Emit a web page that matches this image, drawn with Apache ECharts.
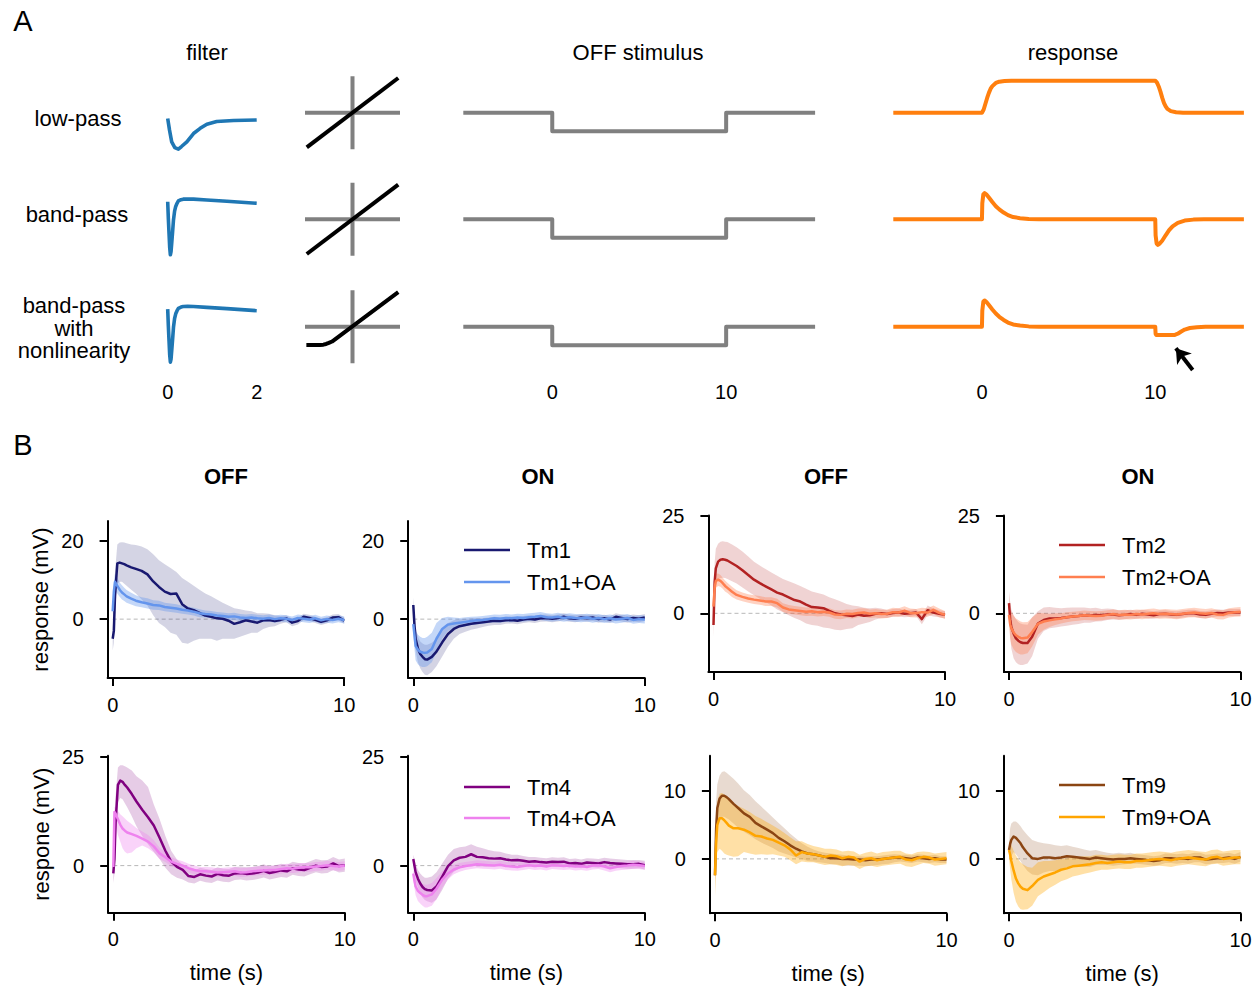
<!DOCTYPE html>
<html>
<head>
<meta charset="utf-8">
<script src="https://cdn.jsdelivr.net/npm/echarts@6/dist/echarts.min.js"></script>
<style>
  html, body { margin: 0; padding: 0; background: #fff; }
  #chart { width: 1256px; height: 987px; }
</style>
</head>
<body>
<div id="chart"></div>
<script>
// ---------------- Panel A: model sketch ----------------
// filter kernels (time in s, arbitrary units)
const lowPassT = [0, 0.04, 0.09, 0.16, 0.24, 0.31, 0.43, 0.58, 0.73, 0.88, 1.1, 1.48, 2.0];
const lowPass  = [0.03, -0.19, -0.42, -0.53, -0.56, -0.51, -0.42, -0.26, -0.16, -0.08, -0.03, -0.01, 0];
const bandPassT = [0, 0.015, 0.03, 0.045, 0.06, 0.075, 0.09, 0.11, 0.13, 0.155, 0.18, 0.21, 0.24, 0.3, 0.35, 0.45, 0.58, 0.88, 1.33, 2.0];
const bandPass  = [0.03, -0.3, -0.58, -0.85, -0.99, -0.93, -0.77, -0.55, -0.32, -0.15, -0.06, 0.0, 0.045, 0.07, 0.08, 0.083, 0.08, 0.064, 0.04, 0];
const filterTicks = [0, 2];

// output nonlinearities
const crossSpan = [-1, 1];
const linearX  = [-0.97, 0.97];
const linearNL = [-0.97, 0.97];
const rectX  = [-0.97, -0.72, -0.64, -0.58, -0.52, -0.45, 0.97];
const rectNL = [-0.53, -0.53, -0.52, -0.50, -0.47, -0.43, 0.97];

// OFF step stimulus
const stimT = [-5, 0, 0, 10, 10, 15];
const stimV = [0, 0, -1, -1, 0, 0];
const stepTicks = [0, 10];

// model responses
const respLowT = [-5, 0, 0.1, 0.2, 0.3, 0.4, 0.5, 0.6, 0.8, 1.0, 1.3, 1.7, 10, 10.1, 10.2, 10.3, 10.4, 10.5, 10.6, 10.7, 10.9, 11.2, 11.6, 15];
const respLow  = [0, 0, 0.1, 0.28, 0.46, 0.62, 0.75, 0.83, 0.93, 0.97, 0.99, 1.0, 1.0, 0.94, 0.82, 0.66, 0.47, 0.31, 0.2, 0.12, 0.05, 0.015, 0, 0];
const respBandT = [-5, 0, 0.02, 0.08, 0.15, 0.25, 0.4, 0.6, 0.8, 1.0, 1.25, 1.5, 1.8, 2.2, 2.7, 3.3, 10, 10.02, 10.08, 10.15, 10.25, 10.4, 10.6, 10.8, 11.0, 11.3, 11.7, 12.2, 12.8, 15];
const respBand  = [0, 0, 0.5, 0.78, 0.82, 0.78, 0.68, 0.54, 0.41, 0.31, 0.21, 0.13, 0.07, 0.035, 0.01, 0, 0, -0.5, -0.76, -0.8, -0.76, -0.67, -0.5, -0.34, -0.22, -0.11, -0.04, -0.01, 0, 0];
const respNlT = [-5, 0, 0.02, 0.08, 0.15, 0.25, 0.4, 0.6, 0.8, 1.0, 1.25, 1.5, 1.8, 2.2, 2.7, 3.3, 10, 10.02, 10.06, 11.1, 11.3, 11.5, 11.7, 12.0, 12.4, 12.9, 15];
const respNl  = [0, 0, 0.5, 0.78, 0.82, 0.78, 0.68, 0.54, 0.41, 0.31, 0.21, 0.13, 0.07, 0.035, 0.01, 0, 0, -0.22, -0.26, -0.26, -0.22, -0.15, -0.09, -0.04, -0.015, 0, 0];
const arrowTail = [12.16, -1.35];
const arrowHead = [11.19, -0.675];

// ---------------- Panel B: recorded responses (mV) ----------------
const T = [0, 0.05, 0.1, 0.2, 0.3, 0.4, 0.5, 0.6, 0.8, 1.0,
  1.25, 1.5, 1.75, 2.0, 2.25, 2.5, 2.75, 3.0, 3.25, 3.5, 3.75, 4.0,
  4.25, 4.5, 4.75, 5.0, 5.25, 5.5, 5.75, 6.0, 6.25, 6.5, 6.75, 7.0,
  7.25, 7.5, 7.75, 8.0, 8.25, 8.5, 8.75, 9.0, 9.25, 9.5, 9.75, 10];
const timeTicks = [0, 10];
const zeroSpan = [0, 10];

// Tm1, OFF step
const tm1_off    = [-5,-3,6,14.2,14.4,14.2,14.0,13.7,13.2,12.8, 12.3,11.4,9.6,8.2, 7.0,6.4,6.5,3.8, 2.7,2.3,1.6,0.9, 0.6,0.2,0.1,-0.4, -1.2,-0.8,-0.3,-0.6, -0.9,-0.3,-0.2,-0.5, -0.2,0.2,-0.9,-0.5, 0.6,0.3,-0.2,-0.7, -0.3,0.4,0.5,-0.4];
const tm1_off_lo = [-8,-6,2,9,9.5,9.5,9,8.5,7.5,6.5, 5,3.5,1,-1, -2,-3.5,-4,-6, -6.3,-5.5,-5,-5, -5,-5.5,-5,-5, -5,-4.5,-4,-3.5, -3.5,-2.5,-2,-1.8, -1.2,-0.8,-1.8,-1.4, -0.3,-0.5,-1,-1.5, -1.1,-0.4,-0.3,-1.2];
const tm1_off_hi = [-3,4,12,19,19.5,19.6,19.5,19.3,19,18.9, 18.5,17.8,16.5,15, 14,13,12,10.5, 9.5,8.5,7.5,6.5, 5.8,5,4.2,3.5, 2.8,2.5,2.2,2, 1.5,1.5,1.4,1, 0.8,1,0.1,0.4, 1.4,1.1,0.6,0.1, 0.5,1.2,1.3,0.4];
const tm1oa_off    = [2,7,9.5,8.5,7.5,6.8,6.3,5.8,5.2,4.7, 4.3,4.0,3.6,3.5, 3.1,2.9,2.7,2.4, 2.2,1.9,1.5,1.3, 1.2,0.9,0.8,0.6, 0.7,0.4,0.3,0.4, 0.2,0.1,0.3,0.0, 0.2,0.1,-0.2,0.3, 0.1,-0.1,0.2,-0.3, 0.0,-0.2,0.1,-0.2];
const tm1oa_off_lo = [1,4.8,7.3,6.5,5.7,5.0,4.6,4.2,3.7,3.3, 3.0,2.7,2.4,2.3, 2.0,1.8,1.6,1.4, 1.2,0.9,0.5,0.4, 0.3,0.0,-0.1,-0.3, -0.2,-0.5,-0.6,-0.5, -0.7,-0.8,-0.6,-0.9, -0.7,-0.8,-1.1,-0.6, -0.8,-1.0,-0.7,-1.2, -0.9,-1.1,-0.8,-1.1];
const tm1oa_off_hi = [3,9.2,11.7,10.5,9.3,8.6,8.0,7.4,6.7,6.1, 5.6,5.3,4.8,4.7, 4.2,4.0,3.8,3.4, 3.2,2.9,2.5,2.2, 2.1,1.8,1.7,1.5, 1.6,1.3,1.2,1.3, 1.1,1.0,1.2,0.9, 1.1,1.0,0.7,1.2, 1.0,0.8,1.1,0.6, 0.9,0.7,1.0,0.7];

// Tm1, ON step
const tm1_on    = [3.6,-1.5,-5.0,-7.5,-8.9,-9.6,-10.2,-10.3,-9.6,-8.3, -5.9,-3.8,-2.5,-1.8, -1.5,-1.2,-1.0,-0.8, -0.6,-0.4,-0.5,-0.3, -0.2,-0.4,-0.1,0.1, -0.1,0.2,0.3,0.1, 0.3,0.6,0.2,0.1, 0.4,0.2,0.4,0.0, 0.2,-0.1,0.6,0.3, 0.0,0.3,0.1,0.4];
const tm1_on_lo = [2.0,-4,-8,-11,-12.5,-13.5,-14.2,-14.3,-13.5,-12, -9.5,-7,-5,-3.8, -3.2,-2.7,-2.4,-2.0, -1.7,-1.5,-1.5,-1.2, -1.1,-1.3,-1.0,-0.8, -1.0,-0.7,-0.6,-0.8, -0.6,-0.3,-0.7,-0.8, -0.5,-0.7,-0.5,-0.9, -0.7,-1.0,-0.3,-0.6, -0.9,-0.6,-0.8,-0.5];
const tm1_on_hi = [5.5,1.5,-2,-4.5,-5.7,-6.2,-6.5,-6.5,-6,-5, -2.7,-1.0,-0.3,0.0, 0.1,0.2,0.3,0.3, 0.4,0.6,0.5,0.6, 0.7,0.5,0.8,1.0, 0.8,1.1,1.2,1.0, 1.2,1.5,1.1,1.0, 1.3,1.1,1.3,0.9, 1.1,0.8,1.5,1.2, 0.9,1.2,1.0,1.3];
const tm1oa_on    = [-1.3,-4.0,-6.8,-7.8,-8.3,-8.5,-8.6,-8.5,-7.6,-5.0, -2.5,-1.4,-1.1,-0.9, -0.7,-0.5,-0.3,-0.2, 0.0,0.2,0.1,0.3, 0.2,0.4,0.3,0.5, 0.6,0.8,0.5,0.4, 0.6,0.3,0.5,0.3, 0.2,0.4,0.1,0.3, 0.0,0.2,-0.1,0.1, 0.3,-0.2,0.0,-0.1];
const tm1oa_on_lo = [-3.5,-7.5,-10.5,-11.5,-12,-12.2,-12.2,-12,-11,-8.5, -5,-3,-2.4,-2.1, -1.8,-1.5,-1.3,-1.2, -1.0,-0.8,-0.9,-0.7, -0.8,-0.6,-0.7,-0.5, -0.4,-0.2,-0.5,-0.6, -0.4,-0.7,-0.5,-0.7, -0.8,-0.6,-0.9,-0.7, -1.0,-0.8,-1.1,-0.9, -0.7,-1.2,-1.0,-1.1];
const tm1oa_on_hi = [0.8,-0.5,-3,-4,-4.5,-4.8,-4.8,-4.5,-3.5,-1, 0.3,0.6,0.4,0.3, 0.5,0.6,0.7,0.8, 1.0,1.2,1.1,1.3, 1.2,1.4,1.3,1.5, 1.6,1.8,1.5,1.4, 1.6,1.3,1.5,1.3, 1.2,1.4,1.1,1.3, 1.0,1.2,0.9,1.1, 1.3,0.8,1.0,0.9];

// Tm2, OFF step
const tm2_off    = [-3,8,11.5,13.2,13.7,13.8,13.7,13.5,12.8,12.1, 11.0,9.8,8.6,7.7, 6.9,6.1,5.3,4.8, 4.1,3.4,3.0,2.2, 1.6,1.5,1.3,0.6, 0.0,-0.3,-0.5,-0.7, -0.3,-0.6,-0.5,-0.1, 0.0,-0.2,0.1,0.2, -0.1,0.0,0.2,-1.5, 0.8,0.2,-0.1,-0.4];
const tm2_off_lo = [-6,3,7,8.7,9,9.1,9.0,8.8,8.2,7.6, 6.6,5.6,4.6,3.7, 2.9,2.0,1.0,0.3, -0.5,-1.2,-1.8,-2.6, -3.0,-3.2,-3.6,-3.8, -4.2,-4.3,-4.0,-3.8, -3.0,-2.6,-2.2,-1.6, -1.2,-1.2,-0.9,-0.8, -1.0,-0.9,-0.7,-2.8, -0.4,-0.8,-1.0,-1.3];
const tm2_off_hi = [0,13,16.5,17.8,18.3,18.4,18.3,18.2,17.6,16.9, 15.8,14.5,13.2,12.2, 11.3,10.4,9.6,8.8, 8.2,7.6,7.0,6.3, 5.6,5.2,4.8,4.1, 3.6,3.0,2.4,2.0, 1.8,1.4,1.3,1.4, 1.2,0.8,1.1,1.2, 0.8,0.9,1.1,-0.4, 2.0,1.2,0.8,0.5];
const tm2oa_off    = [1.7,6.5,8.3,8.6,8.3,7.7,7.0,6.5,5.5,4.7, 4.2,3.8,3.5,3.3, 3.0,3.0,2.6,1.5, 1.0,0.8,0.6,0.4, 0.5,0.3,0.4,0.2, -0.3,-0.4,-0.1,-0.2, 0.1,0.2,-0.1,0.0, -0.2,-0.1,0.3,0.2, 0.7,0.1,0.0,0.3, 0.2,0.9,0.1,-0.4];
const tm2oa_off_lo = [0.7,4.7,6.5,7.0,6.8,6.3,5.6,5.2,4.2,3.5, 3.1,2.7,2.4,2.2, 1.9,1.9,1.5,0.4, -0.1,-0.3,-0.5,-0.7, -0.6,-0.8,-0.7,-0.9, -1.4,-1.5,-1.2,-1.3, -1.0,-0.9,-1.2,-1.1, -1.3,-1.2,-0.8,-0.9, -0.4,-1.0,-1.1,-0.8, -0.9,-0.2,-1.0,-1.4];
const tm2oa_off_hi = [2.7,8.3,10.1,10.2,9.8,9.1,8.4,7.8,6.8,5.9, 5.3,4.9,4.6,4.4, 4.1,4.1,3.7,2.6, 2.1,1.9,1.7,1.5, 1.6,1.4,1.5,1.3, 0.8,0.7,1.0,0.9, 1.2,1.3,1.0,1.1, 0.9,1.0,1.4,1.3, 1.8,1.2,1.1,1.4, 1.3,2.0,1.2,0.6];

// Tm2, ON step
const tm2_on    = [2.6,-1.5,-3.5,-5.2,-6.4,-7.0,-7.4,-7.6,-7.6,-6.0, -2.6,-1.7,-1.3,-1.3, -1.2,-1.0,-0.8,-0.7, -0.5,-0.6,-0.4,-0.5, -0.3,-0.3,-0.5,-0.4, -0.2,-0.4,-0.1,-0.3, -0.5,-0.2,-0.1,-0.3, -0.4,-0.2,0.0,0.0, -0.3,-0.4,-0.1,0.1, 0.0,0.2,0.2,0.2];
const tm2_on_lo = [-1,-6,-9,-11.5,-12.5,-13,-13.2,-13.2,-12.8,-11, -6.5,-4.5,-3.8,-3.6, -3.4,-3.2,-2.9,-2.7, -2.4,-2.4,-2.1,-2.0, -1.7,-1.6,-1.7,-1.5, -1.3,-1.4,-1.1,-1.3, -1.4,-1.1,-1.0,-1.2, -1.3,-1.1,-0.9,-0.9, -1.2,-1.3,-1.0,-0.8, -0.9,-0.7,-0.7,-0.7];
const tm2_on_hi = [5.5,3,1,-0.5,-1.5,-2.2,-2.6,-2.8,-2.9,-1.0, 0.5,1.5,1.6,1.4, 1.3,1.4,1.5,1.5, 1.5,1.3,1.4,1.1, 1.2,1.1,0.8,0.8, 0.9,0.7,0.9,0.7, 0.5,0.7,0.8,0.6, 0.5,0.7,0.9,0.9, 0.6,0.5,0.8,1.0, 0.9,1.1,1.1,1.1];
const tm2oa_on    = [-0.4,-2.8,-3.8,-4.9,-5.6,-6.0,-6.3,-6.4,-6.2,-4.8, -2.7,-2.1,-1.8,-1.5, -1.3,-1.0,-0.8,-0.7, -0.5,-0.6,-0.7,-0.6, -0.4,-0.2,-0.4,-0.3, -0.4,-0.2,-0.3,-0.1, 0.0,-0.2,-0.1,-0.2, -0.3,-0.1,0.1,0.2, 0.0,-0.1,0.1,-0.3, -0.4,0.1,0.3,0.4];
const tm2oa_on_lo = [-2.5,-6.5,-8,-9.2,-9.9,-10.3,-10.5,-10.5,-10.2,-8.5, -5.5,-4.2,-3.5,-3.0, -2.6,-2.3,-2.0,-1.9, -1.7,-1.8,-1.9,-1.8, -1.6,-1.4,-1.6,-1.5, -1.6,-1.4,-1.5,-1.3, -1.2,-1.4,-1.3,-1.4, -1.5,-1.3,-1.1,-1.0, -1.2,-1.3,-1.1,-1.5, -1.6,-1.1,-0.9,-0.8];
const tm2oa_on_hi = [1.7,0.9,0.4,-0.6,-1.3,-1.7,-2.1,-2.3,-2.2,-1.1, 0.1,0.0,-0.1,0.0, 0.0,0.3,0.4,0.5, 0.7,0.6,0.5,0.6, 0.8,1.0,0.8,0.9, 0.8,1.0,0.9,1.1, 1.2,1.0,1.1,1.0, 0.9,1.1,1.3,1.4, 1.2,1.1,1.3,0.9, 0.8,1.3,1.5,1.6];

// Tm4, OFF step
const tm4_off    = [-1.8,1.5,10,18.5,19.5,19.2,18.5,17.9,16.4,14.7, 12.8,11.1,9.2,6.4, 3.4,0.9,-0.3,-1.0, -2.4,-2.6,-2.0,-2.3, -2.5,-1.9,-2.2,-2.3, -1.8,-1.7,-1.9,-1.8, -1.6,-1.2,-1.7,-1.4, -1.1,-1.3,-0.6,-0.9, -1.0,-0.5,0.0,-0.3, -0.2,0.5,-0.1,0.1];
const tm4_off_lo = [-4,-2,4,14.5,15.5,15.2,14.3,13.4,11.3,9.0, 6.8,4.9,3.2,1.5, -0.5,-2.0,-2.8,-3.2, -3.9,-4.1,-3.5,-3.8, -4.0,-3.4,-3.7,-3.8, -3.3,-3.2,-3.4,-3.3, -3.1,-2.7,-3.2,-2.9, -2.6,-2.8,-2.1,-2.4, -2.5,-2.0,-1.5,-1.8, -1.7,-1.0,-1.6,-1.4];
const tm4_off_hi = [0.5,5,16,22.5,23,23,22.8,22.5,21.8,20.5, 19.5,18,14,10.7, 6.8,3.4,1.4,0.2, -0.9,-1.1,-0.5,-0.8, -1.0,-0.4,-0.7,-0.8, -0.3,-0.2,-0.4,-0.3, -0.1,0.3,-0.2,0.1, 0.4,0.2,0.9,0.6, 0.5,1.0,1.5,1.2, 1.3,2.0,1.4,1.6];
const tm4oa_off    = [-0.3,12.3,11.9,10.6,9.4,8.5,8.0,7.6,7.2,6.8, 6.2,5.5,4.4,2.8, 1.9,0.9,0.4,0.0, -0.6,-1.0,-1.3,-1.3, -1.4,-1.6,-1.5,-1.4, -1.3,-1.6,-1.5,-1.3, -1.2,-1.1,-1.0,-1.0, -0.8,-0.6,-0.7,-0.5, -0.4,-0.4,-0.2,-0.1, 0.1,-0.1,-0.2,0.0];
const tm4oa_off_lo = [-1.2,10.5,9.5,7.0,5.5,4.0,3.2,2.8,3.0,4.0, 4.6,4.0,3.0,1.5, 0.8,-0.1,-0.6,-1.0, -1.6,-2.0,-2.3,-2.3, -2.4,-2.6,-2.5,-2.4, -2.3,-2.6,-2.5,-2.3, -2.2,-2.1,-2.0,-2.0, -1.8,-1.6,-1.7,-1.5, -1.4,-1.4,-1.2,-1.1, -0.9,-1.1,-1.2,-1.0];
const tm4oa_off_hi = [0.5,13.5,13.3,12.5,11.8,11.3,10.8,10.3,9.5,8.6, 7.8,7.0,5.8,4.1, 3.0,1.9,1.4,1.0, 0.4,0.0,-0.3,-0.3, -0.4,-0.6,-0.5,-0.4, -0.3,-0.6,-0.5,-0.3, -0.2,-0.1,0.0,0.0, 0.2,0.4,0.3,0.5, 0.6,0.6,0.8,0.9, 1.1,0.9,0.8,1.0];

// Tm4, ON step
const tm4_on    = [1.5,0.0,-1.5,-3.0,-4.1,-4.9,-5.4,-5.6,-5.7,-4.8, -2.5,-0.1,1.2,1.8, 2.0,2.6,2.0,1.9, 1.7,1.6,1.7,1.4, 1.2,1.3,1.1,0.9, 1.0,0.8,0.7,0.9, 0.8,0.9,0.5,0.6, 0.4,0.7,0.6,0.5, 0.8,0.6,0.5,0.4, 0.3,0.3,0.4,0.1];
const tm4_on_lo = [0.5,-1.5,-3.5,-5.0,-6.4,-7.3,-7.9,-8.2,-8.5,-7.8, -5.6,-3.0,-1.4,-0.6, -0.4,0.2,-0.2,-0.2, -0.2,-0.1,0.2,0.0, -0.1,0.1,0.0,-0.2, 0.0,-0.2,-0.3,-0.1, -0.2,-0.1,-0.5,-0.4, -0.6,-0.3,-0.4,-0.5, -0.2,-0.4,-0.5,-0.6, -0.7,-0.7,-0.6,-0.9];
const tm4_on_hi = [2.5,1.5,0.5,-1.0,-1.8,-2.4,-2.8,-2.8,-2.5,-1.5, 0.5,2.5,3.8,4.2, 4.4,4.9,4.3,4.0, 3.6,3.3,3.2,2.8, 2.5,2.5,2.2,2.0, 2.0,1.8,1.7,1.9, 1.8,1.9,1.5,1.6, 1.4,1.7,1.6,1.5, 1.8,1.6,1.5,1.4, 1.3,1.3,1.3,1.1];
const tm4oa_on    = [-1.8,-3.5,-4.8,-5.8,-6.3,-6.7,-7.0,-7.0,-6.6,-5.3, -3.2,-1.8,-0.9,-0.4, -0.1,0.1,0.3,0.2, 0.1,0.0,0.2,-0.1, -0.2,-0.3,-0.1,0.1, -0.1,0.0,-0.2,0.1, 0.0,-0.1,0.0,-0.2, -0.1,-0.3,0.0,0.1, -0.2,-0.6,-0.3,-0.1, 0.0,0.2,0.1,-0.1];
const tm4oa_on_lo = [-2.8,-5.2,-6.8,-8.1,-8.7,-9.2,-9.6,-9.6,-9.2,-7.7, -5.1,-3.2,-2.0,-1.4, -1.0,-0.8,-0.6,-0.7, -0.8,-0.9,-0.7,-1.0, -1.1,-1.2,-1.0,-0.8, -1.0,-0.9,-1.1,-0.8, -0.9,-1.0,-0.9,-1.1, -1.0,-1.2,-0.9,-0.8, -1.1,-1.5,-1.2,-1.0, -0.9,-0.7,-0.8,-1.0];
const tm4oa_on_hi = [-0.8,-1.8,-2.8,-3.5,-3.9,-4.2,-4.4,-4.4,-4.0,-2.9, -1.3,-0.4,0.2,0.6, 0.8,1.0,1.2,1.1, 1.0,0.9,1.1,0.8, 0.7,0.6,0.8,1.0, 0.8,0.9,0.7,1.0, 0.9,0.8,0.9,0.7, 0.8,0.6,0.9,1.0, 0.7,0.3,0.6,0.8, 0.9,1.1,1.0,0.8];

// Tm9, OFF step
const tm9_off    = [-2.4,4.5,7.5,8.9,9.3,9.3,9.1,8.8,8.1,7.5, 6.7,6.2,5.3,4.8, 4.3,3.8,3.1,2.6, 2.0,1.5,1.1,0.8, 0.7,0.5,0.3,0.1, 0.1,0.0,0.0,-0.1, -0.1,-0.2,-0.1,-0.1, 0.0,0.1,0.2,0.2, 0.1,0.0,0.2,0.1, 0.0,0.1,-0.1,-0.1];
const tm9_off_lo = [-4.5,2.0,4.5,5.8,6.2,6.2,6.0,5.8,5.2,4.6, 4.0,3.5,2.9,2.4, 2.0,1.6,1.1,0.8, 0.5,0.2,0.0,-0.3, -0.4,-0.5,-0.6,-0.8, -0.8,-1.0,-1.0,-1.0, -1.0,-1.1,-1.0,-0.9, -0.8,-0.7,-0.5,-0.4, -0.5,-0.6,-0.4,-0.5, -0.6,-0.5,-0.6,-0.6];
const tm9_off_hi = [-0.5,8.5,11.0,12.3,12.8,12.9,12.7,12.4,11.8,11.1, 10.1,9.4,8.5,7.7, 6.9,6.1,5.3,4.5, 3.7,3.0,2.3,1.8, 1.4,1.1,0.9,0.8, 0.7,0.6,0.5,0.4, 0.4,0.3,0.4,0.4, 0.5,0.6,0.7,0.6, 0.6,0.5,0.7,0.6, 0.5,0.6,0.4,0.4];
const tm9oa_off    = [-2.4,2.5,5.0,6.0,6.0,5.7,5.3,4.9,4.5,4.5, 4.3,3.9,3.4,3.3, 3.0,2.8,2.4,2.0, 1.4,0.5,1.0,0.8, 0.7,0.5,0.3,0.5, 0.4,0.1,0.3,0.2, -0.4,0.0,0.1,-0.2, 0.0,0.1,0.2,0.3, -0.1,-0.2,0.1,0.3, 0.2,-0.1,0.0,0.1];
const tm9oa_off_lo = [-5.5,-1.5,1.0,1.5,1.2,0.8,0.6,0.5,0.3,0.4, 1.0,0.8,0.6,0.7, 0.6,0.7,0.5,0.3, -0.2,-0.8,-0.4,-0.5, -0.5,-0.7,-0.9,-0.8, -0.9,-1.1,-0.9,-1.0, -1.5,-1.1,-1.0,-1.2, -1.0,-0.9,-0.8,-0.7, -1.1,-1.2,-0.9,-0.6, -0.7,-1.0,-0.9,-0.8];
const tm9oa_off_hi = [-0.5,6.0,8.5,9.6,9.7,9.5,9.2,8.8,8.2,7.8, 7.4,6.9,6.3,5.9, 5.4,4.9,4.4,3.8, 3.2,2.6,2.6,2.2, 1.9,1.7,1.5,1.5, 1.4,1.1,1.2,1.1, 0.6,0.9,1.1,0.8, 1.0,1.1,1.2,1.2, 0.8,0.7,1.0,1.1, 1.0,0.8,0.9,1.0];

// Tm9, ON step
const tm9_on    = [1.3,2.2,2.8,3.3,3.1,2.7,2.3,1.7,0.8,0.1, 0.0,0.2,0.2,0.1, 0.2,0.4,0.3,0.2, 0.1,0.0,0.2,0.1, 0.0,-0.1,0.0,0.0, 0.1,0.0,-0.1,-0.2, -0.3,-0.2,0.1,0.1, 0.0,0.1,0.0,0.2, 0.2,-0.1,0.0,0.1, 0.1,0.2,0.0,0.3];
const tm9_on_lo = [0.1,0.0,0.4,1.0,0.7,0.2,-0.3,-0.9,-1.8,-2.3, -2.4,-2.0,-1.8,-1.8, -1.5,-1.2,-1.2,-1.2, -1.2,-1.2,-0.9,-0.9, -0.9,-1.0,-0.9,-0.8, -0.7,-0.7,-0.8,-0.9, -1.0,-0.9,-0.6,-0.6, -0.7,-0.6,-0.7,-0.5, -0.5,-0.8,-0.7,-0.6, -0.6,-0.5,-0.7,-0.4];
const tm9_on_hi = [2.5,4.5,5.2,5.5,5.5,5.2,4.8,4.3,3.5,2.8, 2.5,2.3,2.2,2.0, 1.9,2.0,1.8,1.6, 1.4,1.2,1.3,1.1, 0.9,0.8,0.9,0.8, 0.9,0.7,0.6,0.5, 0.4,0.5,0.8,0.8, 0.7,0.8,0.7,0.9, 0.9,0.6,0.7,0.8, 0.8,0.9,0.7,1.0];
const tm9oa_on    = [1.3,0.6,-0.3,-1.7,-2.9,-3.6,-4.1,-4.4,-4.6,-4.0, -3.1,-2.6,-2.3,-2.0, -1.6,-1.4,-1.1,-1.0, -0.9,-0.8,-0.6,-0.5, -0.6,-0.5,-0.4,-0.5, -0.5,-0.3,-0.3,-0.2, -0.1,0.0,-0.1,-0.2, 0.0,0.1,0.2,0.1, 0.0,-0.1,0.2,0.3, 0.0,0.1,0.2,0.2];
const tm9oa_on_lo = [0.0,-1.5,-3.0,-5.0,-6.3,-7.0,-7.4,-7.5,-7.4,-6.9, -5.5,-4.9,-4.3,-3.8, -3.3,-3.0,-2.6,-2.4, -2.2,-2.0,-1.8,-1.6, -1.6,-1.5,-1.4,-1.5, -1.5,-1.3,-1.3,-1.2, -1.1,-1.0,-1.1,-1.2, -1.0,-0.9,-0.8,-0.9, -1.0,-1.1,-0.8,-0.7, -1.0,-0.9,-0.8,-0.8];
const tm9oa_on_hi = [2.5,2.5,2.0,1.2,0.5,0.0,-0.5,-0.8,-1.2,-1.3, -0.5,-0.3,-0.3,-0.2, 0.0,0.1,0.3,0.3, 0.4,0.4,0.6,0.6, 0.5,0.6,0.7,0.6, 0.6,0.8,0.8,0.9, 1.0,1.1,1.0,0.9, 1.1,1.2,1.3,1.2, 1.1,1.0,1.3,1.4, 1.1,1.2,1.3,1.3];

// ---------------- chart construction ----------------
const FONT = "'Liberation Sans', Arial, Helvetica, sans-serif";
const FS = 22;       // titles, axis names, legend
const TICK_FS = 20;  // tick labels
const chart = echarts.init(document.getElementById('chart'), null, { renderer: 'svg', width: 1256, height: 987 });

const grid = [], xAxis = [], yAxis = [], series = [];
function addGrid(rect, xa, ya) {
  const i = grid.length;
  grid.push(Object.assign({ containLabel: false, outerBoundsMode: 'none' }, rect));
  xAxis.push(Object.assign({ gridIndex: i, type: 'value' }, xa));
  yAxis.push(Object.assign({ gridIndex: i, type: 'value' }, ya));
  return i;
}
const hiddenAxis = (min, max) => ({ show: false, min, max });
const labelAxis = (min, max, ticks, margin) => ({
  min, max,
  axisLine: { show: false }, axisTick: { show: false }, splitLine: { show: false },
  axisLabel: { customValues: ticks, margin, fontSize: TICK_FS, color: '#000', fontFamily: FONT }
});
function curve(gi, xs, ys, color, width, extra) {
  return Object.assign({
    type: 'line', xAxisIndex: gi, yAxisIndex: gi,
    data: xs.map((x, i) => [x, ys[i]]),
    symbol: 'none', showSymbol: false, silent: true, clip: false, z: 3,
    lineStyle: { color, width, cap: 'square', join: 'round' },
    itemStyle: { color }
  }, extra || {});
}
function band(gi, name, lo, hi, fill) {
  const data = T.map((t, i) => [t, lo[i], hi[i]]);
  return {
    type: 'custom', name, xAxisIndex: gi, yAxisIndex: gi, silent: true, z: 2,
    data, encode: { x: 0, y: [1, 2] },
    renderItem: function (params, api) {
      if (params.dataIndex !== 0) return null;
      const upper = data.map(d => api.coord([d[0], d[2]]));
      const lower = data.map(d => api.coord([d[0], d[1]])).reverse();
      return { type: 'polygon', shape: { points: upper.concat(lower) }, style: { fill } };
    }
  };
}

// --- Panel A grids ---
const BLUE = '#1f77b4', GRAY = '#808080', ORANGE = '#ff7f0e';
const filterTops = [109.6, 192.9, 300.3];
const nlTops = [78.2, 184.8, 292.2];
const stimTops = [75.7, 182.3, 289.7];
const respTops = [74.3, 180.9, 288.3];
const filterData = [[lowPassT, lowPass], [bandPassT, bandPass], [bandPassT, bandPass]];
const nlData = [[linearX, linearNL], [linearX, linearNL], [rectX, rectNL]];
const respData = [[respLowT, respLow], [respBandT, respBand], [respNlT, respNl]];

for (let r = 0; r < 3; r++) {
  const last = r === 2;
  // filter
  let gi = addGrid({ left: 167.7, top: filterTops[r], width: 89, height: 67.6 },
    last ? labelAxis(0, 2, filterTicks, 14) : hiddenAxis(0, 2), hiddenAxis(-1.1, 0.2));
  series.push(curve(gi, filterData[r][0], filterData[r][1], BLUE, 3.6, { lineStyle: { color: BLUE, width: 3.6, cap: 'butt', join: 'round' } }));
  // nonlinearity with its zero cross
  gi = addGrid({ left: 307, top: nlTops[r], width: 91, height: 69 }, hiddenAxis(-1, 1), hiddenAxis(-1, 1));
  series.push(curve(gi, crossSpan, [0, 0], GRAY, 4, { z: 2 }));
  series.push(curve(gi, [0, 0], crossSpan, GRAY, 4, { z: 2 }));
  series.push(curve(gi, nlData[r][0], nlData[r][1], '#000', 4));
  // stimulus
  gi = addGrid({ left: 465.3, top: stimTops[r], width: 347.8, height: 74 },
    last ? labelAxis(-5, 15, stepTicks, 18.3) : hiddenAxis(-5, 15), hiddenAxis(-2, 2));
  series.push(curve(gi, stimT, stimV, GRAY, 4));
  // response
  gi = addGrid({ left: 895.3, top: respTops[r], width: 346.6, height: 86.4 },
    last ? labelAxis(-5, 15, stepTicks, 7.3) : hiddenAxis(-5, 15), hiddenAxis(-1.5, 1.2));
  const extra = last ? {
    markLine: {
      silent: true, symbol: ['none', 'arrow'], symbolSize: 14, label: { show: false },
      lineStyle: { color: '#000', width: 4, type: 'solid' },
      data: [[{ coord: arrowTail }, { coord: arrowHead }]]
    }
  } : {};
  series.push(curve(gi, respData[r][0], respData[r][1], ORANGE, 4, extra));
}

// --- Panel B grids ---
const bPanels = [
  { left: 107.6, top: 521, height: 157, ymin: -15, ymax: 25, yt: [0, 20], yname: 'response (mV)',
    a: ['Tm1', tm1_off, tm1_off_lo, tm1_off_hi], b: ['Tm1+OA', tm1oa_off, tm1oa_off_lo, tm1oa_off_hi], cols: ['#191970', '#6495ed'], fills: ['rgba(25,25,112,0.19)', 'rgba(100,149,237,0.38)'] },
  { left: 408.2, top: 521, height: 157, ymin: -15, ymax: 25, yt: [0, 20],
    a: ['Tm1', tm1_on, tm1_on_lo, tm1_on_hi], b: ['Tm1+OA', tm1oa_on, tm1oa_on_lo, tm1oa_on_hi], cols: ['#191970', '#6495ed'], fills: ['rgba(25,25,112,0.19)', 'rgba(100,149,237,0.38)'] },
  { left: 708.4, top: 515.5, height: 156.5, ymin: -15, ymax: 25, yt: [0, 25],
    a: ['Tm2', tm2_off, tm2_off_lo, tm2_off_hi], b: ['Tm2+OA', tm2oa_off, tm2oa_off_lo, tm2oa_off_hi], cols: ['#b22222', '#ff7f50'], fills: ['rgba(178,34,34,0.2)', 'rgba(255,127,80,0.35)'] },
  { left: 1003.9, top: 515.5, height: 156.5, ymin: -15, ymax: 25, yt: [0, 25],
    a: ['Tm2', tm2_on, tm2_on_lo, tm2_on_hi], b: ['Tm2+OA', tm2oa_on, tm2oa_on_lo, tm2oa_on_hi], cols: ['#b22222', '#ff7f50'], fills: ['rgba(178,34,34,0.2)', 'rgba(255,127,80,0.35)'] },
  { left: 108.2, top: 755.7, height: 157, ymin: -10.8, ymax: 25.2, yt: [0, 25], yname: 'respone (mV)', xname: true,
    a: ['Tm4', tm4_off, tm4_off_lo, tm4_off_hi], b: ['Tm4+OA', tm4oa_off, tm4oa_off_lo, tm4oa_off_hi], cols: ['#800080', '#ee82ee'], fills: ['rgba(128,0,128,0.2)', 'rgba(238,130,238,0.35)'] },
  { left: 408.2, top: 755.7, height: 157, ymin: -10.8, ymax: 25.2, yt: [0, 25], xname: true,
    a: ['Tm4', tm4_on, tm4_on_lo, tm4_on_hi], b: ['Tm4+OA', tm4oa_on, tm4oa_on_lo, tm4oa_on_hi], cols: ['#800080', '#ee82ee'], fills: ['rgba(128,0,128,0.2)', 'rgba(238,130,238,0.35)'] },
  { left: 709.9, top: 755.7, height: 157.5, ymin: -8, ymax: 15.2, yt: [0, 10], xname: true,
    a: ['Tm9', tm9_off, tm9_off_lo, tm9_off_hi], b: ['Tm9+OA', tm9oa_off, tm9oa_off_lo, tm9oa_off_hi], cols: ['#8b4513', '#ffa500'], fills: ['rgba(139,69,19,0.2)', 'rgba(255,165,0,0.35)'] },
  { left: 1003.9, top: 755.7, height: 157.5, ymin: -8, ymax: 15.2, yt: [0, 10], xname: true,
    a: ['Tm9', tm9_on, tm9_on_lo, tm9_on_hi], b: ['Tm9+OA', tm9oa_on, tm9oa_on_lo, tm9oa_on_hi], cols: ['#8b4513', '#ffa500'], fills: ['rgba(139,69,19,0.2)', 'rgba(255,165,0,0.35)'] }
];

const axisInk = { color: '#000', width: 2 };
const nameStyle = { fontSize: FS, color: '#000', fontFamily: FONT };
bPanels.forEach(p => {
  const gi = addGrid({ left: p.left, top: p.top, width: 236.6, height: p.height },
    {
      min: -0.22, max: 10, splitLine: { show: false },
      axisLine: { show: true, onZero: false, lineStyle: axisInk },
      axisTick: { show: true, customValues: timeTicks, length: 8, lineStyle: axisInk },
      axisLabel: { customValues: timeTicks, margin: 16.5, fontSize: TICK_FS, color: '#000', fontFamily: FONT },
      name: p.xname ? 'time (s)' : '', nameLocation: 'middle', nameGap: 49, nameTextStyle: nameStyle
    },
    {
      min: p.ymin, max: p.ymax, splitLine: { show: false },
      axisLine: { show: true, onZero: false, lineStyle: axisInk },
      axisTick: { show: true, customValues: p.yt, length: 8, lineStyle: axisInk },
      axisLabel: { customValues: p.yt, margin: 24, fontSize: TICK_FS, color: '#000', fontFamily: FONT },
      name: p.yname || '', nameLocation: 'middle', nameGap: 56, nameTextStyle: nameStyle
    });
  series.push(curve(gi, zeroSpan, [0, 0], '#b8b8b8', 1, { z: 1, lineStyle: { color: '#b8b8b8', width: 1, type: [4, 3] } }));
  series.push(band(gi, p.a[0] + ' SEM', p.a[2], p.a[3], p.fills[0]));
  series.push(band(gi, p.b[0] + ' SEM', p.b[2], p.b[3], p.fills[1]));
  series.push(curve(gi, T, p.a[1], p.cols[0], 2.5, { name: p.a[0], z: 3, lineStyle: { color: p.cols[0], width: 2.5, join: 'round' } }));
  series.push(curve(gi, T, p.b[1], p.cols[1], 2.5, { name: p.b[0], z: 4, lineStyle: { color: p.cols[1], width: 2.5, join: 'round' } }));
});

// legend swatches are thin bars drawn like line samples
const legendBase = {
  orient: 'vertical', icon: 'rect', itemWidth: 46, itemHeight: 2.7, padding: 0, selectedMode: false,
  textStyle: { fontSize: FS, color: '#000', fontFamily: FONT, padding: [0, 0, 0, 12] }
};
const legend = [
  Object.assign({}, legendBase, { left: 464, top: 539, itemGap: 10, data: ['Tm1', 'Tm1+OA'] }),
  Object.assign({}, legendBase, { left: 1059, top: 534, itemGap: 10, data: ['Tm2', 'Tm2+OA'] }),
  Object.assign({}, legendBase, { left: 464, top: 776, itemGap: 9, data: ['Tm4', 'Tm4+OA'] }),
  Object.assign({}, legendBase, { left: 1059, top: 774, itemGap: 10, data: ['Tm9', 'Tm9+OA'] })
];

function label(text, x, y, size, weight, lineHeight) {
  return {
    type: 'text', x, y, silent: true,
    style: {
      text, fill: '#000', fontSize: size, fontWeight: weight || 'normal', fontFamily: FONT,
      textAlign: 'center', textVerticalAlign: 'middle', align: 'center', verticalAlign: 'middle',
      lineHeight: lineHeight || size
    }
  };
}
const graphic = [
  label('A', 23, 21, 29),
  label('B', 23, 445, 29),
  label('filter', 207, 52, FS),
  label('OFF stimulus', 638, 52, FS),
  label('response', 1073, 52, FS),
  label('low-pass', 78, 118, FS),
  label('band-pass', 77, 214, FS),
  label('band-pass\nwith\nnonlinearity', 74, 328, FS, 'normal', 22.5),
  label('OFF', 226, 476, FS, 'bold'),
  label('ON', 538, 476, FS, 'bold'),
  label('OFF', 826, 476, FS, 'bold'),
  label('ON', 1138, 476, FS, 'bold')
];

chart.setOption({
  animation: false,
  backgroundColor: '#fff',
  textStyle: { fontFamily: FONT },
  grid, xAxis, yAxis, series, legend, graphic
});
</script>
</body>
</html>
